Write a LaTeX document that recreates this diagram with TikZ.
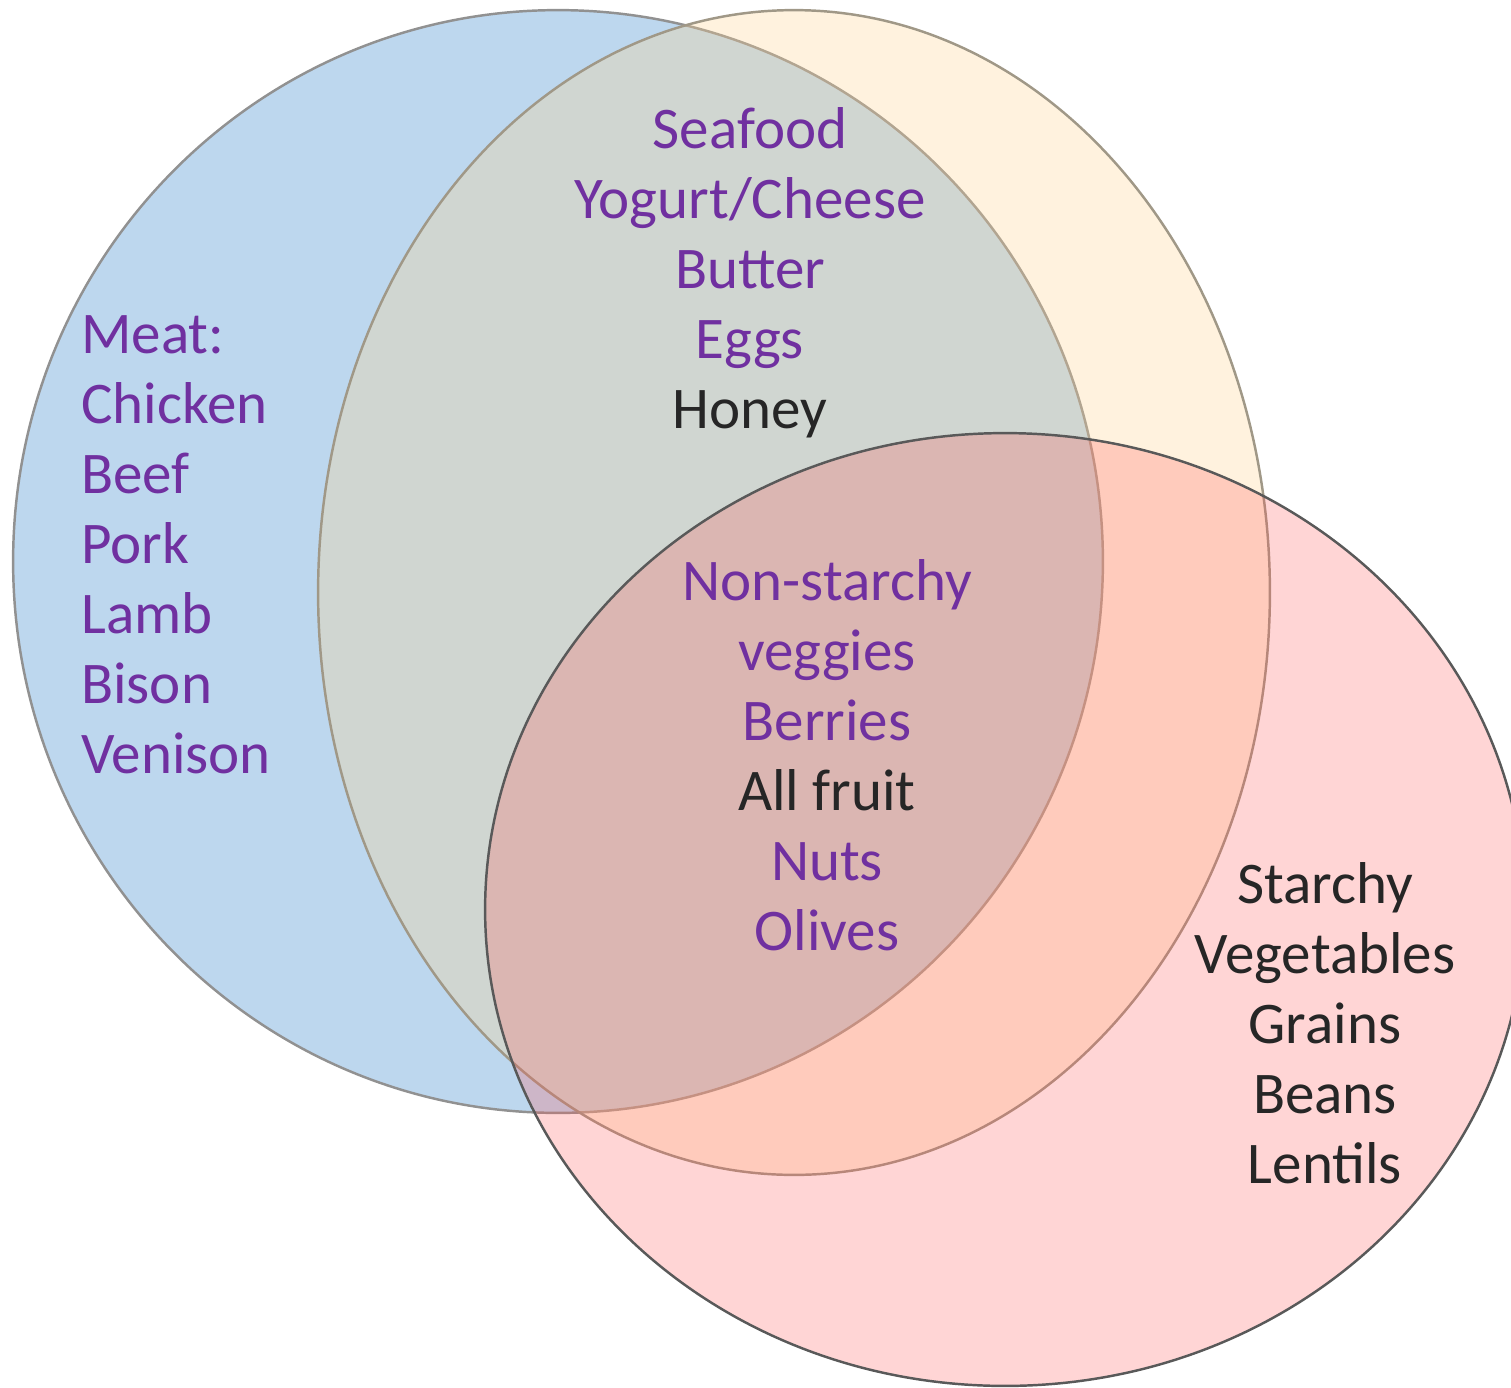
\documentclass[tikz,border=0pt]{standalone}
\usepackage{fontspec}
\setmainfont{Carlito}
\definecolor{meatblue}{RGB}{189,215,238}
\definecolor{dairygold}{RGB}{255,212,145}
\definecolor{plantred}{RGB}{255,87,87}
\definecolor{meatedge}{RGB}{145,145,145}
\definecolor{dairyedge}{RGB}{160,152,135}
\definecolor{plantedge}{RGB}{89,89,89}
\definecolor{purp}{RGB}{112,48,160}
\definecolor{dark}{RGB}{38,38,38}

\begin{document}
\begin{tikzpicture}[x=0.02cm, y=-0.02cm, line width=1.4pt,
    lbl/.style={font=\fontsize{33.6}{40}\selectfont, inner sep=0pt, anchor=base}]
  \useasboundingbox (0,0) rectangle (1511,1387);
  \clip (0,0) rectangle (1511,1387);

  % centres of the three sets
  \coordinate (meat)  at (558,561.5);
  \coordinate (dairy) at (794,592.5);
  \coordinate (plant) at (1005,909.5);

  \fill[meatblue] (meat) ellipse [x radius=10.9cm, y radius=11.03cm];
  \draw[meatedge] (meat) ellipse [x radius=10.9cm, y radius=11.03cm];

  \fill[dairygold, opacity=0.3] (dairy) ellipse [x radius=9.52cm, y radius=11.65cm];
  \draw[dairyedge] (dairy) ellipse [x radius=9.52cm, y radius=11.65cm];

  \fill[plantred, opacity=0.25] (plant) ellipse [x radius=10.4cm, y radius=9.53cm];
  \draw[plantedge] (plant) ellipse [x radius=10.4cm, y radius=9.53cm];

  % meat only
  \foreach \t [count=\i from 0] in {Meat:, Chicken, Beef, Pork, Lamb, Bison, Venison}
    \node[lbl, anchor=base west, text=purp] (meat-\i) at (80,353+70*\i) {\t};

  % meat and dairy
  \foreach \t [count=\i from 0] in {Seafood, Yogurt/Cheese, Butter, Eggs}
    \node[lbl, text=purp] (md-\i) at (750,148+70*\i) {\t};
  \node[lbl, text=dark] (honey) at (750,428) {Honey};

  % all three
  \foreach \t/\c [count=\i from 0] in {Non-starchy/purp, veggies/purp, Berries/purp,
      All fruit/dark, Nuts/purp, Olives/purp}
    \node[lbl, text=\c] (all-\i) at (827,600+70*\i) {\t};

  % plants only
  \foreach \t [count=\i from 0] in {Starchy, Vegetables, Grains, Beans, Lentils}
    \node[lbl, text=dark] (plant-\i) at (1325,903+70*\i) {\t};
\end{tikzpicture}
\end{document}
